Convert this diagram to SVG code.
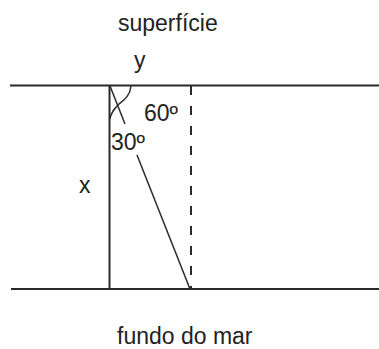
<svg xmlns="http://www.w3.org/2000/svg" width="379" height="349" viewBox="0 0 379 349">
<style>
.ln{stroke:#2a2a2a;stroke-width:2;fill:none}
.thin{stroke:#2a2a2a;stroke-width:1.5;fill:none}
.dash{stroke:#2a2a2a;stroke-width:2;fill:none;stroke-dasharray:9 11}
text{font-family:"Liberation Sans",Arial,sans-serif;font-size:23px;fill:#222}
</style>
<rect width="379" height="349" fill="#fff"/>
<g id="surface"><line class="ln" x1="10" y1="85.5" x2="379" y2="85.5"/><text x="118" y="31">superfície</text></g>
<g id="seabed"><line class="ln" x1="11" y1="289" x2="379" y2="289"/><text x="117" y="344">fundo do mar</text></g>
<g id="connectors">
<line id="x-line" class="ln" x1="109.5" y1="86" x2="109.5" y2="289"/>
<line class="dash" x1="191" y1="86" x2="191" y2="289"/>
<line class="thin" x1="110" y1="86" x2="125" y2="124"/>
<line class="thin" x1="137" y1="155" x2="190" y2="289"/>
<path class="thin" d="M131,86 C130,96 124,100 119,104 C115,108 111,112 110,119"/>
</g>
<g id="labels">
<text x="134" y="68">y</text>
<text x="79" y="193">x</text>
<text x="144" y="121">60º</text>
<text x="111" y="150">30º</text>
</g>
</svg>
